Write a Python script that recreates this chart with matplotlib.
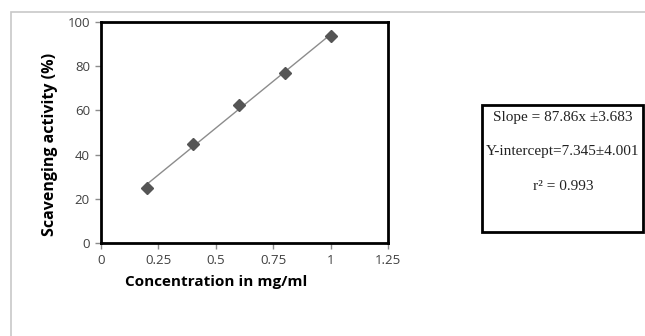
import matplotlib
matplotlib.use("Agg")
import matplotlib.pyplot as plt
from matplotlib.patches import Rectangle
import numpy as np

conc = [0.2, 0.4, 0.6, 0.8, 1.0]
activity = [24.9, 44.8, 62.3, 76.8, 93.6]
xticks = [0, 0.25, 0.5, 0.75, 1, 1.25]
xticklabels = ["0", "0.25", "0.5", "0.75", "1", "1.25"]
yticks = [0, 20, 40, 60, 80, 100]
box_lines = ["Slope = 87.86x \u00b13.683", "Y-intercept=7.345\u00b14.001", "r\u00b2 = 0.993"]

fig = plt.figure(figsize=(6.45, 3.36), dpi=100)
fig.patch.set_facecolor("white")

# outer light frame
fig.patches.append(Rectangle((11/645, -0.05), 1.0, 1 - 12/336 + 0.05, transform=fig.transFigure,
                             fill=False, edgecolor="#c8c8c8", lw=1.2))

ax = fig.add_axes([101/645, 1 - 243/336, 287/645, 221/336])
coef = np.polyfit(conc, activity, 1)
xs = np.array([conc[0], conc[-1]])
ax.plot(xs, np.polyval(coef, xs), color="#8c8c8c", lw=1.0, zorder=2)
ax.plot(conc, activity, linestyle="none", marker="D", markersize=6.5, color="#555555", zorder=3)
ax.set_xlim(0, 1.25)
ax.set_ylim(0, 100)
ax.set_xticks(xticks)
ax.set_xticklabels(xticklabels)
ax.set_yticks(yticks)
for s in ax.spines.values():
    s.set_linewidth(2.0)
    s.set_color("black")
ax.tick_params(axis="both", colors="#8c8c8c", labelcolor="#404040", labelsize=9.5, length=4, width=1,
               direction="out", pad=4)
for lab in ax.get_xticklabels() + ax.get_yticklabels():
    lab.set_fontfamily("Open Sans")

fig.text(50/645, 1 - 144/336, "Scavenging activity (%)", rotation=90, ha="center", va="center",
         fontsize=11.5, fontweight="bold", family="Open Sans")
fig.text(216/645, 1 - 282/336, "Concentration in mg/ml", ha="center", va="center",
         fontsize=11, fontweight="bold", family="Open Sans")

# text box
fig.patches.append(Rectangle((482/645, 1 - 232/336), 161/645, 127/336, transform=fig.transFigure,
                             fill=False, edgecolor="black", lw=2.0))
for ypix, t in zip([117, 152, 186], box_lines):
    fig.text(563/645, 1 - ypix/336, t, ha="center", va="center", fontsize=11,
             family="Liberation Serif", color="#222222")

fig.savefig("out.png", dpi=100)
